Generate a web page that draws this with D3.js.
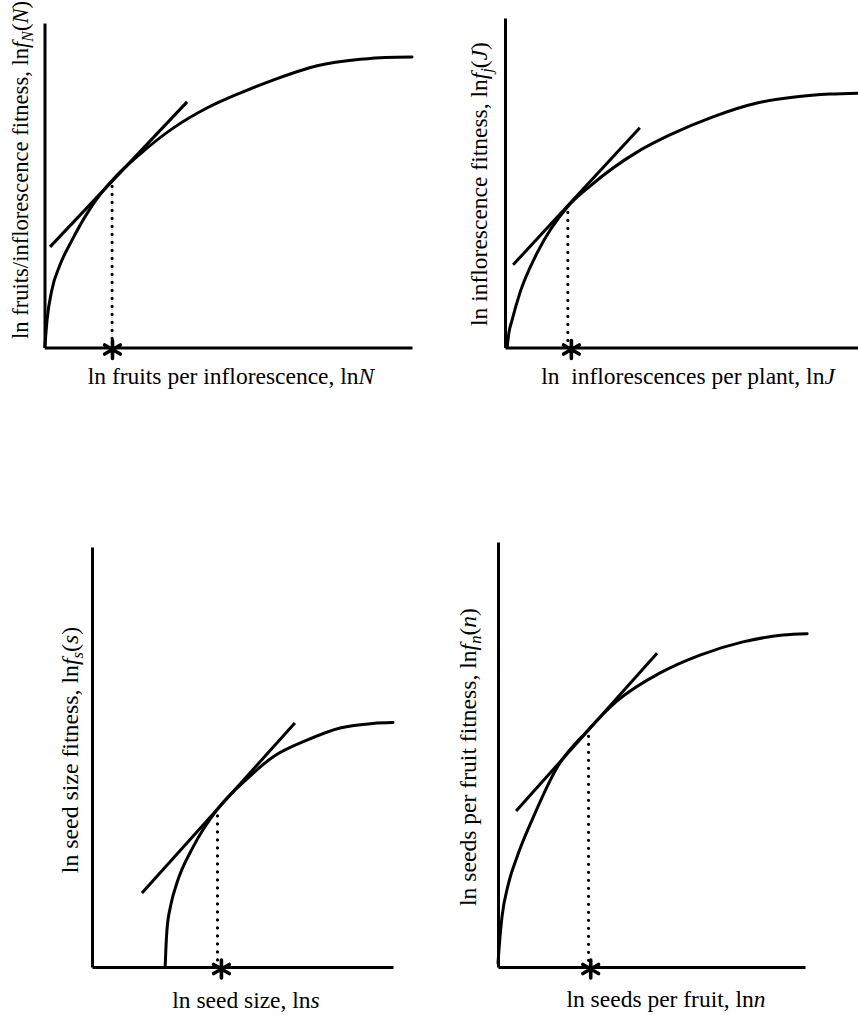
<!DOCTYPE html>
<html>
<head>
<meta charset="utf-8">
<script src="https://cdn.jsdelivr.net/npm/d3@7"></script>
<style>
  html, body { margin: 0; padding: 0; background: #fff; }
  svg { display: block; }
  text { font-family: "Liberation Serif", "DejaVu Serif", serif; fill: #000; }
</style>
</head>
<body>
<svg id="chart" width="858" height="1015"></svg>
<script>
// ---- Data (abstract units, each axis 0..10) ----
const panelNames = ["fruits", "inflorescences", "seedSize", "seedsPerFruit"];

const curveFruits = [[0.01,0.02],[0.07,0.85],[0.20,1.77],[0.42,2.54],[0.75,3.31],[1.13,4.08],[1.51,4.71],[1.84,5.15],[2.60,5.96],[3.50,6.76],[4.42,7.38],[5.32,7.84],[6.22,8.24],[7.42,8.68],[8.59,8.88],[9.27,8.94],[10,8.95]];
const curveInflor = [[0.06,0],[0.11,0.44],[0.20,0.83],[0.42,1.65],[0.91,2.87],[1.78,4.28],[2.41,4.90],[3.74,5.93],[4.67,6.45],[5.89,7.00],[7.14,7.42],[8.27,7.61],[9.21,7.69],[10,7.72]];
const curveSeedSize = [[2.43,0],[2.46,0.52],[2.49,0.88],[2.62,1.48],[2.82,2.00],[3.36,2.86],[4.15,3.74],[5.15,4.48],[6.01,5.00],[7.14,5.40],[8.24,5.69],[9.34,5.80],[10,5.82]];
const curveSeedsFruit = [[0,0.09],[0.07,0.75],[0.13,1.18],[0.33,1.93],[0.62,2.59],[1.14,3.51],[1.92,4.69],[2.93,5.57],[3.88,6.26],[5.28,6.92],[6.58,7.34],[7.98,7.65],[9.28,7.81],[10.07,7.84]];

const tangentFruits = [[0.15,3.10],[3.88,7.57]];
const tangentInflor = [[0.23,2.51],[3.82,6.67]];
const tangentSeedSize = [[1.66,1.76],[6.74,5.81]];
const tangentSeedsFruit = [[0.59,3.67],[5.18,7.38]];

// optimum [x, y]
const optimumFruits = [1.84, 5.15];
const optimumInflor = [1.78, 4.28];
const optimumSeedSize = [4.17, 3.74];
const optimumSeedsFruit = [2.95, 5.57];

const xLabels = [
  [["ln fruits per inflorescence, ln", ""], ["N", "i"]],
  [["ln\u00a0 inflorescences per plant, ln", ""], ["J", "i"]],
  [["ln seed size, ln", ""], ["s", "i"]],
  [["ln seeds per fruit, ln", ""], ["n", "i"]]
];
// y labels: [text, style] where style: "" normal, "i" italic, "sub" italic subscript
const yLabels = [
  [["ln fruits/inflorescence fitness, ln", ""], ["f", "i"], ["N", "sub"], ["(", ""], ["N", "i"], [")", ""]],
  [["ln inflorescence fitness, ln", ""], ["f", "i"], ["j", "sub"], ["(", ""], ["J", "i"], [")", ""]],
  [["ln seed size fitness, ln", ""], ["f", "i"], ["s", "sub"], ["(", ""], ["s", "i"], [")", ""]],
  [["ln seeds per fruit fitness, ln", ""], ["f", "i"], ["n", "sub"], ["(", ""], ["n", "i"], [")", ""]]
];

const curves = [curveFruits, curveInflor, curveSeedSize, curveSeedsFruit];
const tangents = [tangentFruits, tangentInflor, tangentSeedSize, tangentSeedsFruit];
const optima = [optimumFruits, optimumInflor, optimumSeedSize, optimumSeedsFruit];
const starOffset = [0.01, 0.1, 0.13, 0.07];

// ---- Layout (pixels) ----
const layout = [
  {x0: 44.5, x1: 412, y0: 347.5, y1: 23, xl: [231, 384], yl: [28, 170], fx: 23.5, fy: 22.6},
  {x0: 505, x1: 858, y0: 347.5, y1: 18, xl: [688, 384], yl: [487, 184], fx: 23.5, fy: 23.5},
  {x0: 92, x1: 393, y0: 967, y1: 547, xl: [246, 1008], yl: [78, 750], fx: 23.5, fy: 23.8},
  {x0: 498, x1: 805, y0: 967, y1: 542, xl: [666, 1007], yl: [476, 757], fx: 23.5, fy: 23.6}
];

const svg = d3.select("#chart");

panelNames.forEach((name, i) => {
  const L = layout[i];
  const x = d3.scaleLinear().domain([0, 10]).range([L.x0, L.x1]);
  const y = d3.scaleLinear().domain([0, 10]).range([L.y0, L.y1]);
  const g = svg.append("g").attr("class", "panel-" + name);

  // axes (plain lines, no ticks)
  const yAxis = d3.axisLeft(y).tickValues([]).tickSizeOuter(0);
  const xAxis = d3.axisBottom(x).tickValues([]).tickSizeOuter(0);
  g.append("g").attr("transform", `translate(${L.x0},0)`).call(yAxis)
    .select(".domain").attr("stroke", "#000").attr("stroke-width", 3);
  g.append("g").attr("transform", `translate(0,${L.y0})`).call(xAxis)
    .select(".domain").attr("stroke", "#000").attr("stroke-width", 3);

  // fitness curve
  const line = d3.line().x(d => x(d[0])).y(d => y(d[1])).curve(d3.curveMonotoneX);
  g.append("path").datum(curves[i]).attr("d", line)
    .attr("fill", "none").attr("stroke", "#000").attr("stroke-width", 3)
    .attr("stroke-linecap", "round").attr("stroke-linejoin", "round");

  // tangent
  g.append("path").datum(tangents[i]).attr("d", d3.line().x(d => x(d[0])).y(d => y(d[1])))
    .attr("fill", "none").attr("stroke", "#000").attr("stroke-width", 3);

  // dotted drop line
  const o = optima[i];
  g.append("line")
    .attr("x1", x(o[0])).attr("x2", x(o[0]))
    .attr("y1", y(o[1]) + 6).attr("y2", y(0) - 6)
    .attr("stroke", "#000").attr("stroke-width", 3.2)
    .attr("stroke-linecap", "round").attr("stroke-dasharray", "0,8");

  // asterisk
  g.append("path")
    .attr("d", d3.symbol().type(d3.symbolAsterisk).size(230)())
    .attr("transform", `translate(${x(o[0] + starOffset[i])},${y(0) + 2})`)
    .attr("fill", "none").attr("stroke", "#000").attr("stroke-width", 3.6)
    .attr("stroke-linecap", "round");

  // x label
  const xt = g.append("text").attr("x", L.xl[0]).attr("y", L.xl[1])
    .attr("text-anchor", "middle").attr("font-size", L.fx);
  xLabels[i].forEach(([t, s]) => {
    const ts = xt.append("tspan").text(t);
    if (s === "i") ts.attr("font-style", "italic");
  });

  // y label
  const yt = g.append("text")
    .attr("transform", `translate(${L.yl[0]},${L.yl[1]}) rotate(-90)`)
    .attr("text-anchor", "middle").attr("font-size", L.fy);
  let prevSub = false;
  const sh = L.fy * 0.22;
  yLabels[i].forEach(([t, s]) => {
    const ts = yt.append("tspan").text(t);
    if (s === "i") ts.attr("font-style", "italic");
    if (s === "sub") {
      ts.attr("font-style", "italic").attr("font-size", L.fy * 0.7).attr("dy", sh);
      prevSub = true;
    } else if (prevSub) {
      ts.attr("dy", -sh);
      prevSub = false;
    }
  });
});
</script>
</body>
</html>
